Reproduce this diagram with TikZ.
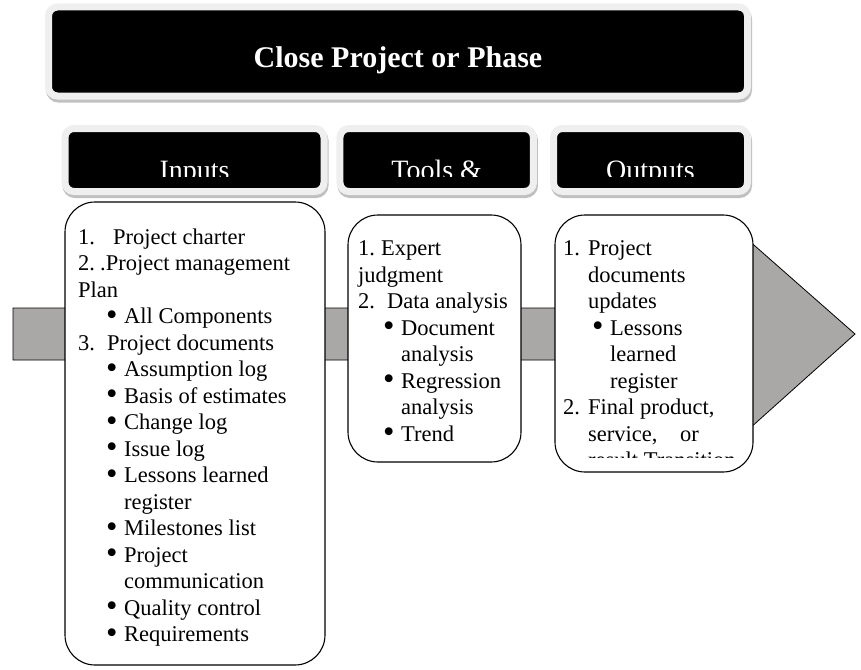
\documentclass[tikz,border=0pt]{standalone}
\usepackage{fontspec}
\setmainfont{Liberation Serif}
\usetikzlibrary{positioning}
\usetikzlibrary{shadows}

\definecolor{framegray}{RGB}{239,239,239}
\definecolor{shadegray}{RGB}{192,192,192}
\definecolor{bargray}{RGB}{170,167,167}

\newcommand{\bul}[2][28pt]{\hspace*{#1}\makebox[18pt][l]{\raisebox{-1.5pt}[0pt][0pt]{\scalebox{1.45}{\textbullet}}}#2}
\newcommand{\cont}[2][46pt]{\hspace*{#1}#2}

\begin{document}
\begin{tikzpicture}[x=1pt,y=-1pt,
    frame/.style={draw=framegray, fill=black, line width=7pt, rounded corners=9pt, inner sep=0pt,
        general shadow={draw=shadegray, fill=shadegray, line width=7pt, shadow yshift=-3pt, shadow xshift=1pt}},
    box/.style={draw, fill=white, line width=1.1pt, rounded corners=30pt, inner sep=0pt},
    hdrtext/.style={text=white, font=\fontsize{28}{30}\selectfont, anchor=base, inner sep=0pt},
    listtext/.style={font=\fontsize{22.5}{26.5}\selectfont, align=left, inner sep=0pt, anchor=north west}]
    \useasboundingbox (0,0) rectangle (861,669);

    % the long arrow behind everything
    \draw[fill=bargray, line width=0.8pt] (13,308) -- (730,308) -- (730,224) -- (855,334)
        -- (730,446) -- (730,360) -- (13,360) -- cycle;

    % title
    \node[frame, minimum width=699pt, minimum height=89pt] (title) at (398,51.5) {};
    \node[text=white, font=\bfseries\fontsize{30}{32}\selectfont, anchor=base, inner sep=0pt] (titletext) at (398,67) {Close Project or Phase};

    % headers
    \node[frame, minimum width=259pt, minimum height=63pt] (hdrin) at (194.5,160) {};
    \node[frame, minimum width=193.5pt, minimum height=63pt] (hdrtools) at (436.7,160) {};
    \node[frame, minimum width=194pt, minimum height=63pt] (hdrout) at (650.5,160) {};
    \begin{scope}
        \clip (0,0) rectangle (861,176);
        \node[hdrtext] (lblin) at (hdrin |- 0,179) {Inputs};
        \node[hdrtext] (lbltools) at (hdrtools |- 0,179) {Tools \&};
        \node[hdrtext] (lblout) at (hdrout |- 0,179) {Outputs};
    \end{scope}

    % boxes
    \node[box, minimum width=260pt, minimum height=463pt] (boxin) at (195,433.5) {};
    \node[box, minimum width=173pt, minimum height=247pt] (boxtools) at (434.5,338.5) {};
    \node[box, minimum width=198pt, minimum height=257pt] (boxout) at (654,343.5) {};

    \begin{scope}
        \clip (0,0) rectangle (861,647);
        \node[listtext] (textin) at (78,228.6) {%
            \makebox[35pt][l]{1.}Project charter\\
            \makebox[22pt][l]{2.}.Project management\\
            Plan\\
            \bul{All Components}\\
            \makebox[29pt][l]{3.}Project documents\\
            \bul{Assumption log}\\
            \bul{Basis of estimates}\\
            \bul{Change log}\\
            \bul{Issue log}\\
            \bul{Lessons learned}\\
            \cont{register}\\
            \bul{Milestones list}\\
            \bul{Project}\\
            \cont{communication}\\
            \bul{Quality control}\\
            \bul{Requirements}};
    \end{scope}

    \node[listtext] (texttools) at (358,240.8) {%
        \makebox[23pt][l]{1.}Expert\\
        judgment\\
        \makebox[29pt][l]{2.}Data analysis\\
        \bul[25pt]{Document}\\
        \cont[43pt]{analysis}\\
        \bul[25pt]{Regression}\\
        \cont[43pt]{analysis}\\
        \bul[25pt]{Trend}};

    \begin{scope}
        \clip (0,0) rectangle (861,457);
        \node[listtext] (textout) at (563,240.6) {%
            \makebox[25pt][l]{1.}Project\\
            \cont[25pt]{documents}\\
            \cont[25pt]{updates}\\
            \bul[29pt]{Lessons}\\
            \cont[47pt]{learned}\\
            \cont[47pt]{register}\\
            \makebox[25pt][l]{2.}Final product,\\
            \cont[25pt]{service,\quad or}\\
            \cont[25pt]{result Transition}};
    \end{scope}
\end{tikzpicture}
\end{document}
